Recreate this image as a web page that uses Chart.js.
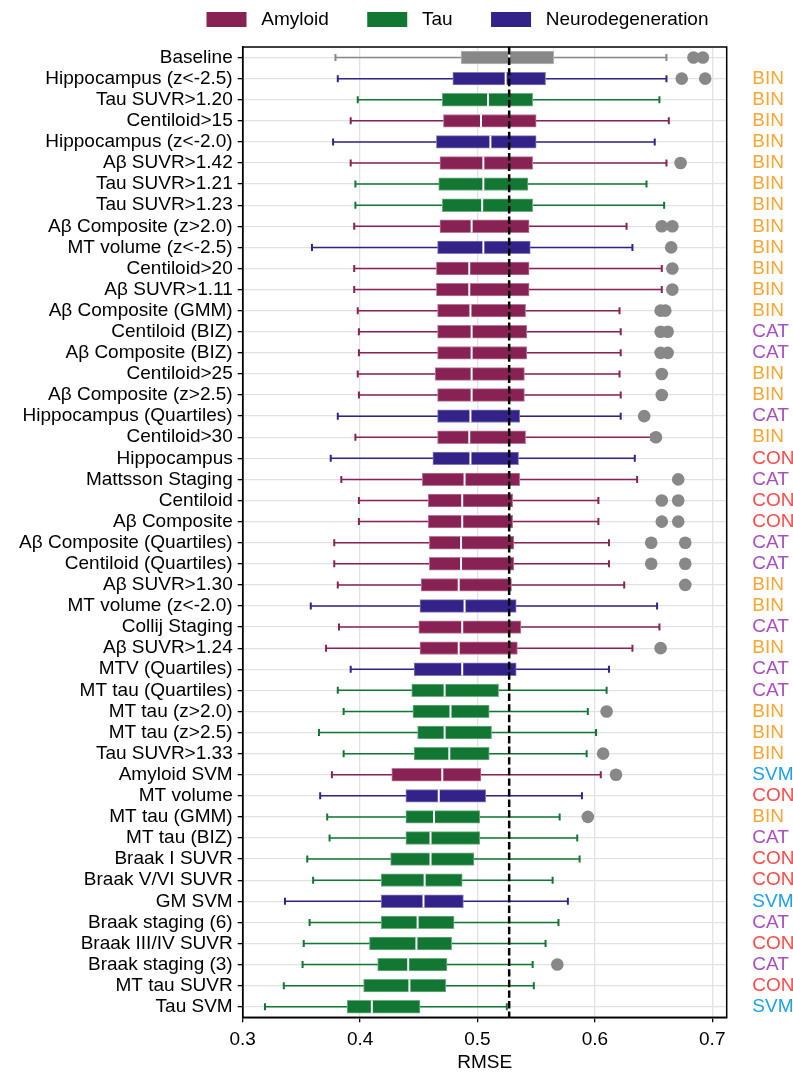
<!DOCTYPE html>
<html>
<head>
<meta charset="utf-8">
<style>
  html, body { margin: 0; padding: 0; background: #fff; }
</style>
<script src="https://cdn.jsdelivr.net/npm/chart.js@4.4.1/dist/chart.umd.min.js"></script>
</head>
<body>
<canvas id="rmseChart" width="793" height="1074"></canvas>
<script>
const categories = [
  "Baseline", "Hippocampus (z<-2.5)", "Tau SUVR>1.20", "Centiloid>15", "Hippocampus (z<-2.0)",
  "Aβ SUVR>1.42", "Tau SUVR>1.21", "Tau SUVR>1.23", "Aβ Composite (z>2.0)", "MT volume (z<-2.5)",
  "Centiloid>20", "Aβ SUVR>1.11", "Aβ Composite (GMM)", "Centiloid (BIZ)", "Aβ Composite (BIZ)",
  "Centiloid>25", "Aβ Composite (z>2.5)", "Hippocampus (Quartiles)", "Centiloid>30", "Hippocampus",
  "Mattsson Staging", "Centiloid", "Aβ Composite", "Aβ Composite (Quartiles)", "Centiloid (Quartiles)",
  "Aβ SUVR>1.30", "MT volume (z<-2.0)", "Collij Staging", "Aβ SUVR>1.24", "MTV (Quartiles)",
  "MT tau (Quartiles)", "MT tau (z>2.0)", "MT tau (z>2.5)", "Tau SUVR>1.33", "Amyloid SVM",
  "MT volume", "MT tau (GMM)", "MT tau (BIZ)", "Braak I SUVR", "Braak V/VI SUVR",
  "GM SVM", "Braak staging (6)", "Braak III/IV SUVR", "Braak staging (3)", "MT tau SUVR", "Tau SVM"
];

const modality = [
  "Baseline", "Neurodegeneration", "Tau", "Amyloid", "Neurodegeneration",
  "Amyloid", "Tau", "Tau", "Amyloid", "Neurodegeneration",
  "Amyloid", "Amyloid", "Amyloid", "Amyloid", "Amyloid",
  "Amyloid", "Amyloid", "Neurodegeneration", "Amyloid", "Neurodegeneration",
  "Amyloid", "Amyloid", "Amyloid", "Amyloid", "Amyloid",
  "Amyloid", "Neurodegeneration", "Amyloid", "Amyloid", "Neurodegeneration",
  "Tau", "Tau", "Tau", "Tau", "Amyloid",
  "Neurodegeneration", "Tau", "Tau", "Tau", "Tau",
  "Neurodegeneration", "Tau", "Tau", "Tau", "Tau", "Tau"
];

const types = [
  "", "BIN", "BIN", "BIN", "BIN",
  "BIN", "BIN", "BIN", "BIN", "BIN",
  "BIN", "BIN", "BIN", "CAT", "CAT",
  "BIN", "BIN", "CAT", "BIN", "CON",
  "CAT", "CON", "CON", "CAT", "CAT",
  "BIN", "BIN", "CAT", "BIN", "CAT",
  "CAT", "BIN", "BIN", "BIN", "SVM",
  "CON", "BIN", "CAT", "CON", "CON",
  "SVM", "CAT", "CON", "CAT", "CON", "SVM"
];

const whiskerLow = [
  0.379, 0.381, 0.398, 0.392, 0.377, 0.392, 0.396, 0.396, 0.395, 0.359,
  0.395, 0.395, 0.398, 0.399, 0.399, 0.398, 0.399, 0.381, 0.396, 0.375,
  0.384, 0.399, 0.399, 0.378, 0.378, 0.381, 0.358, 0.382, 0.371, 0.392,
  0.381, 0.386, 0.365, 0.386, 0.376, 0.366, 0.372, 0.374, 0.355, 0.360,
  0.336, 0.357, 0.352, 0.351, 0.335, 0.319
];
const q1 = [
  0.486, 0.479, 0.470, 0.471, 0.465, 0.468, 0.467, 0.470, 0.468, 0.466,
  0.465, 0.465, 0.466, 0.466, 0.466, 0.464, 0.466, 0.466, 0.466, 0.462,
  0.453, 0.458, 0.458, 0.459, 0.459, 0.452, 0.451, 0.450, 0.451, 0.446,
  0.444, 0.445, 0.449, 0.446, 0.427, 0.439, 0.439, 0.439, 0.426, 0.418,
  0.418, 0.418, 0.408, 0.415, 0.403, 0.389
];
const median = [
  0.527, 0.524, 0.509, 0.503, 0.511, 0.505, 0.505, 0.504, 0.495, 0.505,
  0.493, 0.493, 0.494, 0.495, 0.495, 0.495, 0.495, 0.494, 0.493, 0.494,
  0.489, 0.487, 0.487, 0.486, 0.486, 0.484, 0.489, 0.487, 0.484, 0.487,
  0.472, 0.477, 0.472, 0.476, 0.470, 0.467, 0.463, 0.460, 0.460, 0.455,
  0.454, 0.449, 0.448, 0.441, 0.442, 0.410
];
const q3 = [
  0.565, 0.558, 0.547, 0.550, 0.550, 0.547, 0.543, 0.547, 0.544, 0.545,
  0.544, 0.544, 0.541, 0.542, 0.542, 0.540, 0.540, 0.536, 0.541, 0.535,
  0.536, 0.530, 0.530, 0.531, 0.531, 0.529, 0.533, 0.537, 0.534, 0.533,
  0.518, 0.510, 0.512, 0.510, 0.503, 0.507, 0.502, 0.502, 0.497, 0.487,
  0.488, 0.480, 0.478, 0.474, 0.473, 0.451
];
const whiskerHigh = [
  0.661, 0.661, 0.655, 0.663, 0.651, 0.661, 0.644, 0.659, 0.627, 0.632,
  0.657, 0.657, 0.621, 0.622, 0.622, 0.621, 0.622, 0.622, 0.648, 0.634,
  0.636, 0.603, 0.603, 0.612, 0.612, 0.625, 0.653, 0.655, 0.632, 0.612,
  0.610, 0.594, 0.601, 0.593, 0.605, 0.589, 0.570, 0.585, 0.587, 0.564,
  0.577, 0.569, 0.558, 0.547, 0.548, 0.525
];
const outliers = [
  [0.684, 0.692], [0.674, 0.694], [], [], [],
  [0.673], [], [], [0.657, 0.666], [0.665],
  [0.666], [0.666], [0.656, 0.660], [0.656, 0.662], [0.656, 0.662],
  [0.657], [0.657], [0.642], [0.652], [],
  [0.671], [0.657, 0.671], [0.657, 0.671], [0.648, 0.677], [0.648, 0.677],
  [0.677], [], [], [0.656], [],
  [], [0.610], [], [0.607], [0.618],
  [], [0.594], [], [], [],
  [], [], [], [0.568], [], []
];

const referenceRmse = 0.527;
const legendNames = ["Amyloid", "Tau", "Neurodegeneration"];

const groupColors = {
  Baseline: "#888888", Amyloid: "#882255", Tau: "#117733", Neurodegeneration: "#332288"
};
const groupEdges = {
  Baseline: "#b8b8b8", Amyloid: "#b87a99", Tau: "#70ad85", Neurodegeneration: "#857ab8"
};
const typeColors = { BIN: "#F9A633", CAT: "#AA4FC0", CON: "#FF4B4B", SVM: "#1DA1EC" };

Chart.defaults.font.family = "'Liberation Sans', Arial, sans-serif";
Chart.defaults.font.size = 19;
Chart.defaults.color = "#000";

const outlierPoints = [];
outliers.forEach((list, i) => list.forEach(v => outlierPoints.push({ x: v, y: categories[i] })));

// whiskers, caps, medians, reference line and frame
const boxExtras = {
  id: "boxExtras",
  beforeInit(chart) {
    const fit = chart.legend.fit;
    chart.legend.fit = function () {
      fit.call(this);
      this.height += 8;
    };
  },
  afterLayout(chart) {
    // legend sits over the plot, not the whole canvas
    chart.legend.left += 61;
    chart.legend.right += 61;
  },
  beforeDatasetsDraw(chart) {
    const { ctx, scales: { x, y } } = chart;
    ctx.save();
    categories.forEach((c, i) => {
      const yc = y.getPixelForValue(i);
      const xl = x.getPixelForValue(whiskerLow[i]);
      const xh = x.getPixelForValue(whiskerHigh[i]);
      ctx.strokeStyle = groupColors[modality[i]];
      ctx.lineWidth = 1.5;
      ctx.beginPath();
      ctx.moveTo(xl, yc);
      ctx.lineTo(xh, yc);
      ctx.stroke();
      ctx.lineWidth = 2;
      ctx.beginPath();
      ctx.moveTo(xl, yc - 3.5); ctx.lineTo(xl, yc + 3.5);
      ctx.moveTo(xh, yc - 3.5); ctx.lineTo(xh, yc + 3.5);
      ctx.stroke();
    });
    ctx.restore();
  },
  afterDatasetsDraw(chart) {
    const { ctx, chartArea: a, scales: { x, y } } = chart;
    ctx.save();
    ctx.strokeStyle = "#fff";
    ctx.lineWidth = 2;
    categories.forEach((c, i) => {
      const yc = y.getPixelForValue(i);
      const xm = x.getPixelForValue(median[i]);
      ctx.beginPath();
      ctx.moveTo(xm, yc - 6.3);
      ctx.lineTo(xm, yc + 6.3);
      ctx.stroke();
    });
    const xr = x.getPixelForValue(referenceRmse);
    ctx.strokeStyle = "#000";
    ctx.lineWidth = 2.5;
    ctx.setLineDash([7.4, 3.2]);
    ctx.beginPath();
    ctx.moveTo(xr, a.top);
    ctx.lineTo(xr, a.bottom);
    ctx.stroke();
    ctx.setLineDash([]);
    ctx.lineWidth = 1.5;
    ctx.strokeRect(a.left, a.top, a.right - a.left, a.bottom - a.top);
    ctx.restore();
  }
};

new Chart(document.getElementById("rmseChart"), {
  data: {
    labels: categories,
    datasets: [
      {
        type: "bar",
        label: "box",
        data: q1.map((v, i) => [v, q3[i]]),
        backgroundColor: modality.map(m => groupColors[m]),
        borderColor: modality.map(m => groupEdges[m]),
        borderWidth: 1,
        borderSkipped: false,
        barThickness: 12.7,
        grouped: false
      },
      {
        type: "scatter",
        label: "outliers",
        data: outlierPoints,
        backgroundColor: "#888888",
        borderWidth: 0,
        pointRadius: 6.3,
        pointHoverRadius: 6.3
      }
    ]
  },
  options: {
    indexAxis: "y",
    responsive: false,
    animation: false,
    layout: { padding: { left: 0, right: 0, top: -2, bottom: 0 } },
    plugins: {
      tooltip: { enabled: false },
      legend: {
        position: "top",
        align: "center",
        onClick: () => {},
        labels: {
          boxWidth: 40,
          boxHeight: 15,
          padding: 12,
          font: { size: 19 },
          color: "#000",
          generateLabels: () => legendNames.map((n, i) => ({
            text: " " + n + (i < legendNames.length - 1 ? "     " : ""),
            fillStyle: groupColors[n],
            strokeStyle: groupColors[n],
            lineWidth: 0,
            hidden: false
          }))
        }
      }
    },
    scales: {
      x: {
        type: "linear",
        position: "bottom",
        min: 0.3,
        max: 0.7123,
        afterBuildTicks: s => { s.ticks = [0.3, 0.4, 0.5, 0.6, 0.7].map(v => ({ value: v })); },
        ticks: { callback: v => Number(v).toFixed(1), padding: 6, maxRotation: 0, autoSkip: false, font: { size: 19 }, color: "#000" },
        grid: { color: "#e2e2e2", lineWidth: 1.3, tickColor: "#000", tickLength: 5, tickWidth: 1.3 },
        border: { color: "#000", width: 1.5 },
        title: { display: true, text: "RMSE", font: { size: 19 }, color: "#000", padding: { top: 0, bottom: 0 } },
        afterFit: s => { s.height = 56.7; }
      },
      y: {
        type: "category",
        position: "left",
        offset: true,
        grid: { offset: false, color: "#e2e2e2", lineWidth: 1.3, tickColor: "#000", tickLength: 5, tickWidth: 1.3 },
        border: { color: "#000", width: 1.5 },
        ticks: { padding: 5, autoSkip: false, font: { size: 19 }, color: "#000" },
        afterFit: s => { s.width = 242.7; }
      },
      y2: {
        type: "category",
        position: "right",
        labels: types,
        offset: true,
        grid: { display: false, drawTicks: false },
        border: { display: false },
        ticks: { padding: 25.6, autoSkip: false, font: { size: 19 }, color: c => typeColors[types[c.index]] || "#000" },
        afterFit: s => { s.width = 66.3; }
      }
    }
  },
  plugins: [boxExtras]
});
</script>
</body>
</html>
